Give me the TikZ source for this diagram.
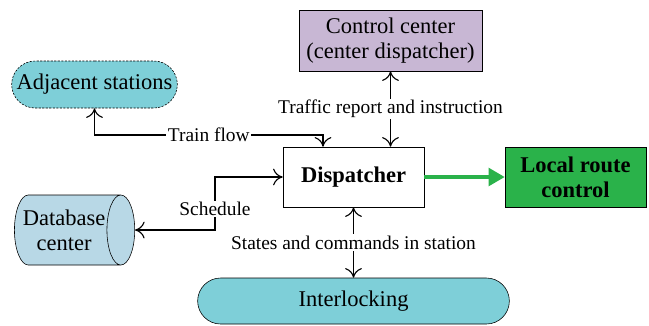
\documentclass[tikz,border=0pt]{standalone}
\usepackage{fontspec}
\setmainfont{Liberation Serif}
\usepackage{tikz}
\usetikzlibrary{positioning,arrows.meta,shapes.geometric,shapes.misc}

\definecolor{cyanfill}{RGB}{126,207,216}
\definecolor{purplefill}{RGB}{200,183,212}
\definecolor{dbfill}{RGB}{184,216,230}
\definecolor{greenfill}{RGB}{42,178,74}

\begin{document}
\begin{tikzpicture}[x=0.025cm, y=-0.025cm, every node/.style={font=\fontsize{16}{18}\selectfont}, >={Computer Modern Rightarrow[length=2.4mm,width=4.2mm,line width=0.8pt]}, conn/.style={line width=0.8pt}, lbl/.style={fill=white, inner sep=1pt, font=\fontsize{13.8}{16}\selectfont}, box/.style={draw, align=center, minimum width=3.525cm, minimum height=1.5cm}, pill/.style={draw, rounded rectangle, fill=cyanfill, align=center}]
\useasboundingbox (0,0) rectangle (649,325);
\node[box, fill=purplefill, minimum width=4.575cm, minimum height=1.525cm] (ctrl) at (390.5,40.5) {Control center\\(center dispatcher)};
\node[pill, dashed, dash pattern=on 1.5pt off 1pt, minimum width=4.375cm, minimum height=1.175cm] (adj) at (94.5,84.5) {Adjacent stations};
\node[box, font=\fontsize{16}{18}\selectfont\bfseries] (disp) at (353.5,177) {Dispatcher};
\node[box, fill=greenfill, font=\fontsize{16}{18}\selectfont\bfseries] (local) at (575.5,177) {Local route\\control};
\node[draw, cylinder, shape aspect=0.55, fill=dbfill, align=center, inner xsep=1pt, minimum width=1.75cm, minimum height=2.9cm, shape border rotate=0, anchor=east] (db) at (135,230) {Database\\center};
\node[pill, minimum width=8.025cm, minimum height=1.15cm] (inter) at (353.5,301) {Interlocking};
\coordinate (tf) at (323,135);
\coordinate (sc) at (215,177);
\draw[conn, <->] (adj.south) |- node[lbl, pos=0.75] {Train flow} (tf) -- (tf |- disp.north);
\draw[conn, <->] (ctrl.south) -- node[lbl] {Traffic report and instruction} (ctrl.south |- disp.north);
\draw[conn, <->] (db.east) -| node[lbl, pos=0.7] {Schedule} (sc) -- (disp.west);
\draw[conn, <->] (disp.south) -- node[lbl] {States and commands in station} (inter.north);
\draw[line width=2.4pt, greenfill, -{Triangle[length=4mm,width=4.4mm]}] (disp) -- (local);
\end{tikzpicture}
\end{document}
